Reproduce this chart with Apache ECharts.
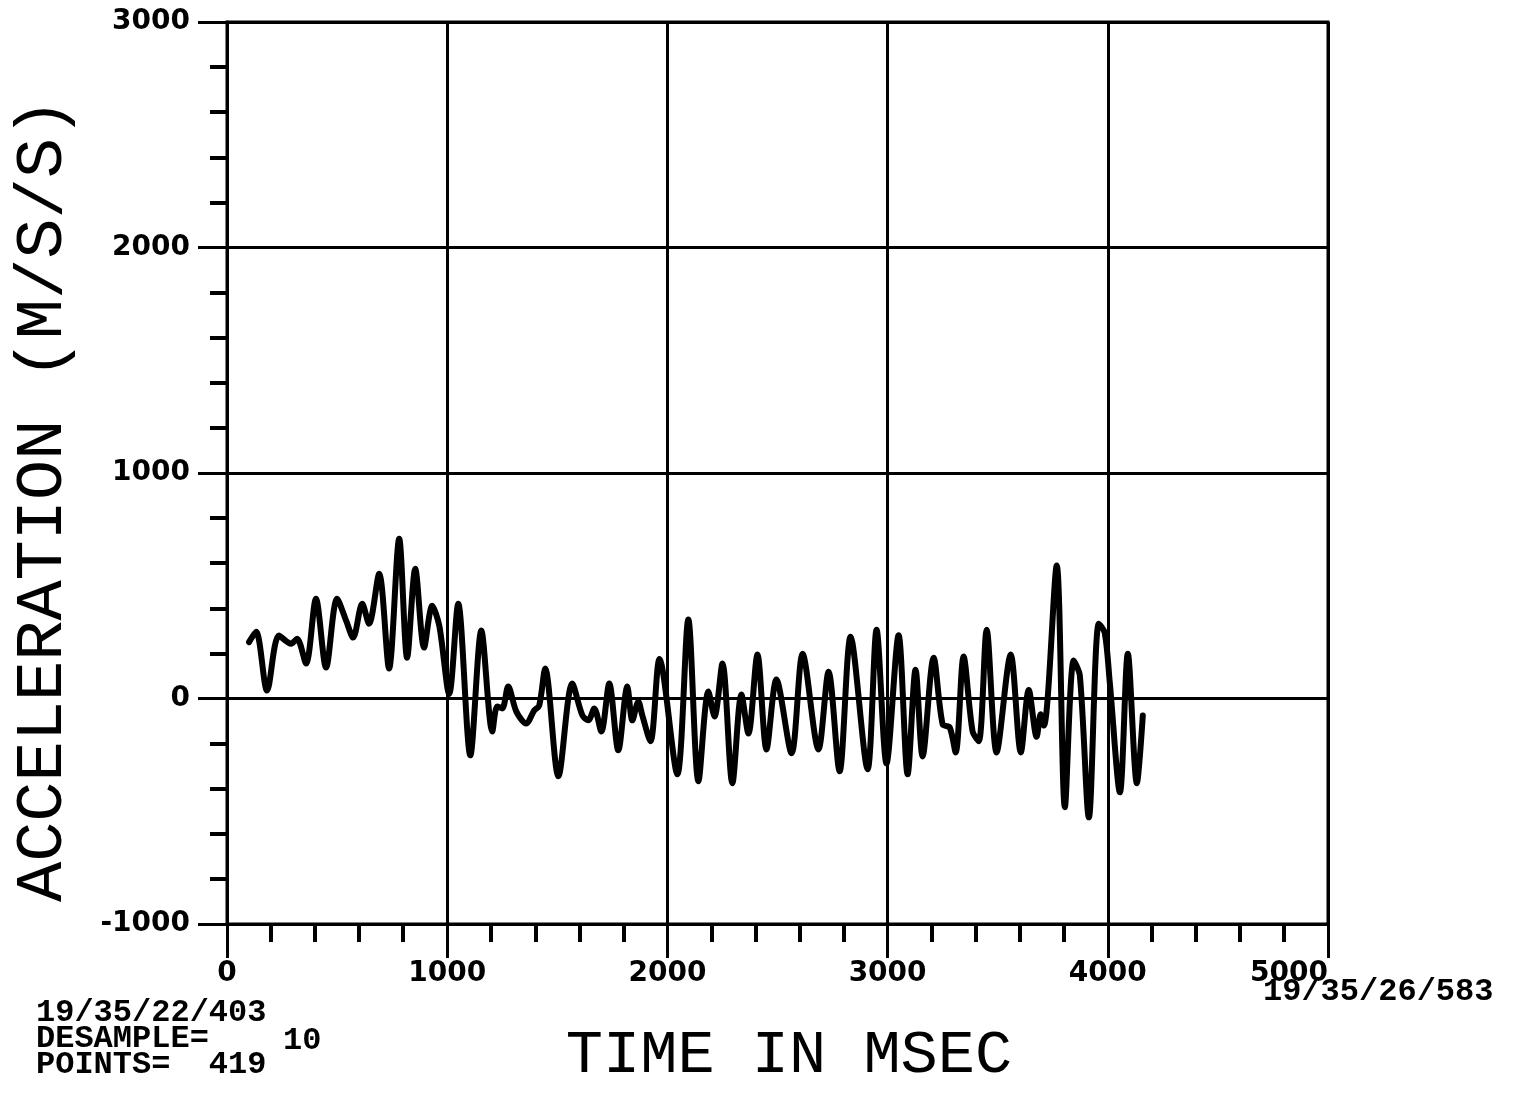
<!DOCTYPE html>
<html>
<head>
<meta charset="utf-8">
<title>Acceleration vs time</title>
<script src="https://cdn.jsdelivr.net/npm/echarts@6/dist/echarts.min.js"></script>
<style>
  html, body { margin: 0; padding: 0; background: #fff; }
  #chart { width: 1517px; height: 1094px; }
</style>
</head>
<body>
<div id="chart"></div>
<script>
// time (msec) of each traced turning point of the trace
const timeMs = [
  100, 132, 182, 236, 291, 318, 359, 404, 450, 500, 541, 573, 614, 645, 691, 736, 782, 818, 855, 895,
  932, 964, 1009, 1050, 1105, 1155, 1205, 1227, 1250, 1277, 1314, 1359, 1395, 1418, 1445, 1505, 1568,
  1614, 1641, 1668, 1700, 1736, 1777, 1818, 1841, 1868, 1886, 1923, 1964, 2045, 2095, 2141, 2186, 2214,
  2250, 2295, 2336, 2368, 2409, 2450, 2495, 2564, 2614, 2686, 2732, 2782, 2832, 2909, 2950, 2995, 3050,
  3091, 3127, 3159, 3209, 3250, 3282, 3309, 3345, 3386, 3414, 3450, 3495, 3559, 3605, 3641, 3677, 3695,
  3710, 3768, 3805, 3845, 3873, 3914, 3959, 3986, 4009, 4055, 4091, 4132, 4159
]
// acceleration (m/s/s) at those times
const accel = [
  250, 296, 35, 279, 243, 265, 155, 442, 137, 442, 345, 270, 420, 332, 553, 133, 708, 181, 575, 226,
  411, 323, 20, 420, -252, 301, -146, -35, -44, 53, -58, -111, -53, -31, 133, -345, 66,
  -75, -97, -44, -146, 66, -230, 53, -97, -13, -75, -190, 175, -336, 350, -367, 31, -80,
  155, -376, 18, -155, 195, -226, 84, -243, 199, -226, 119, -323, 274, -314, 305, -288, 280,
  -336, 128, -257, 181, -115, -128, -239, 186, -146, -190, 305, -239, 195, -239, 38, -170, -70,
  -120, 590, -482, 168, 102, -527, 332, 292, 71, -416, 199, -376, -75
]
const xTicks = [0, 1000, 2000, 3000, 4000, 5000]
const yTicks = [-1000, 0, 1000, 2000, 3000]

const chart = echarts.init(document.getElementById('chart'))

// plain numbers, no thousands separator
const plain = (v) => String(v)

const tickFont = {
  fontFamily: 'DejaVu Sans',
  fontWeight: 'bold',
  fontSize: 28,
  color: '#000',
  formatter: plain
}
const infoFont = 'bold 32px "Liberation Mono"'

const option = {
  animation: false,
  backgroundColor: '#fff',
  grid: {
    left: 227,
    right: 189,
    top: 22,
    bottom: 170,
    show: true,
    borderColor: '#000',
    borderWidth: 3
  },
  xAxis: {
    type: 'value',
    min: xTicks[0],
    max: xTicks[xTicks.length - 1],
    interval: 1000,
    axisLine: { onZero: false, lineStyle: { color: '#000', width: 3 } },
    axisTick: { length: 34, lineStyle: { color: '#000', width: 3 } },
    minorTick: { show: true, splitNumber: 5, length: 18, lineStyle: { color: '#000', width: 4 } },
    splitLine: { show: true, lineStyle: { color: '#000', width: 3 } },
    axisLabel: Object.assign({ margin: 36, alignMaxLabel: 'right' }, tickFont)
  },
  yAxis: {
    type: 'value',
    min: yTicks[0],
    max: yTicks[yTicks.length - 1],
    interval: 1000,
    axisLine: { show: true, onZero: false, lineStyle: { color: '#000', width: 3 } },
    axisTick: { show: true, length: 29, lineStyle: { color: '#000', width: 3 } },
    minorTick: { show: true, splitNumber: 5, length: 17, lineStyle: { color: '#000', width: 4 } },
    splitLine: { show: true, lineStyle: { color: '#000', width: 3 } },
    axisLabel: Object.assign({ margin: 37 }, tickFont)
  },
  graphic: [
    {
      type: 'text',
      x: 43, y: 500,
      rotation: Math.PI / 2,
      style: {
        text: 'ACCELERATION (M/S/S)',
        font: '67px "Liberation Mono"',
        fill: '#000',
        align: 'center',
        verticalAlign: 'middle'
      }
    },
    {
      type: 'text',
      x: 789, y: 1056,
      style: {
        text: 'TIME IN MSEC',
        font: '62px "Liberation Mono"',
        fill: '#000',
        align: 'center',
        verticalAlign: 'middle'
      }
    },
    { type: 'text', x: 36, y: 997, style: { text: '19/35/22/403', font: infoFont, fill: '#000' } },
    { type: 'text', x: 36, y: 1023, style: { text: 'DESAMPLE=', font: infoFont, fill: '#000' } },
    { type: 'text', x: 283, y: 1025, style: { text: '10', font: infoFont, fill: '#000' } },
    { type: 'text', x: 36, y: 1049, style: { text: 'POINTS=  419', font: infoFont, fill: '#000' } },
    { type: 'text', x: 1263, y: 976, style: { text: '19/35/26/583', font: infoFont, fill: '#000' } }
  ],
  series: [{
    type: 'line',
    data: timeMs.map((t, i) => [t, accel[i]]),
    showSymbol: false,
    smooth: 0.3,
    lineStyle: { color: '#000', width: 6, join: 'round', cap: 'round' }
  }]
}

chart.setOption(option)
</script>
</body>
</html>
